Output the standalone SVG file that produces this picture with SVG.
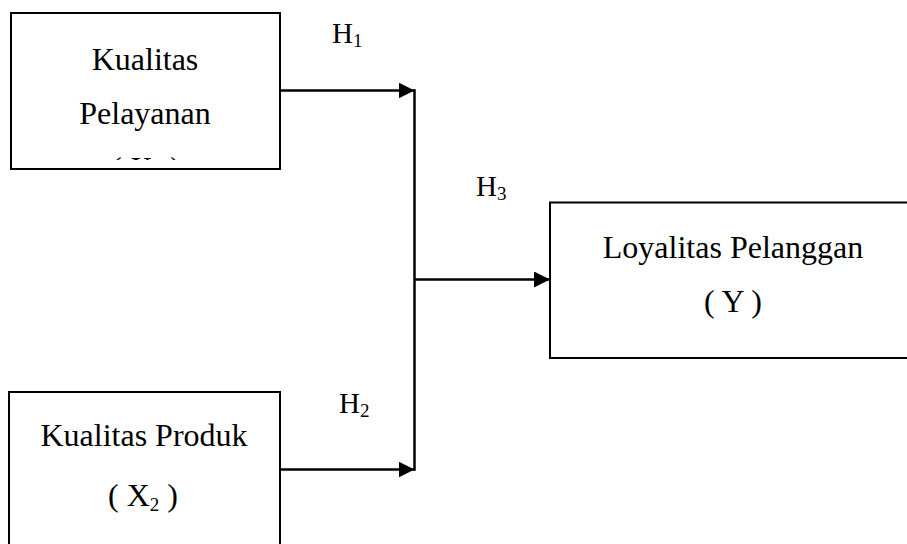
<svg xmlns="http://www.w3.org/2000/svg" width="907" height="544" viewBox="0 0 907 544">
<style>
.box{fill:#fff;stroke:#000;stroke-width:2}
.t{font-family:"Liberation Serif","Times New Roman",serif;font-size:32px;fill:#000;text-anchor:middle}
.lbl{font-family:"Liberation Serif","Times New Roman",serif;font-size:29px;fill:#000}
.sub{font-size:19px}
.ln{stroke:#000;stroke-width:2.5;fill:none}
</style>
<defs>
<marker id="ah" markerUnits="userSpaceOnUse" markerWidth="18" markerHeight="18" refX="16" refY="8" orient="auto">
<path d="M0,0 L16,8 L0,16 Z" fill="#000"/>
</marker>
<clipPath id="c1"><rect x="0" y="0" width="300" height="160"/></clipPath>
</defs>
<rect width="907" height="544" fill="#fff"/>
<g id="node-x1">
<rect class="box" x="11" y="13" width="269" height="156"/>
<text class="t" x="145" y="70">Kualitas</text>
<text class="t" x="145" y="124">Pelayanan</text>
<text class="t" x="146" y="179" clip-path="url(#c1)">( X<tspan class="sub" dy="5">1</tspan><tspan dy="-5"> )</tspan></text>
</g>
<g id="node-x2">
<rect class="box" x="9" y="392" width="271" height="160"/>
<text class="t" x="144" y="446">Kualitas Produk</text>
<text class="t" x="143" y="506">( X<tspan class="sub" dy="5">2</tspan><tspan dy="-5"> )</tspan></text>
</g>
<g id="node-y">
<rect class="box" x="550" y="202.5" width="360" height="155.5"/>
<text class="t" x="733" y="258">Loyalitas Pelanggan</text>
<text class="t" x="733" y="312">( Y )</text>
</g>
<g id="connectors">
<line class="ln" x1="280" y1="90.5" x2="414.5" y2="90.5" marker-end="url(#ah)"/>
<line class="ln" x1="280" y1="469.5" x2="414.5" y2="469.5" marker-end="url(#ah)"/>
<line class="ln" x1="414.5" y1="89.3" x2="414.5" y2="470.7"/>
<line class="ln" x1="414.5" y1="279.5" x2="550" y2="279.5" marker-end="url(#ah)"/>
</g>
<g id="labels">
<text class="lbl" x="332" y="43">H<tspan class="sub" dy="4">1</tspan></text>
<text class="lbl" x="339" y="413">H<tspan class="sub" dy="4">2</tspan></text>
<text class="lbl" x="476" y="196">H<tspan class="sub" dy="4">3</tspan></text>
</g>
</svg>
